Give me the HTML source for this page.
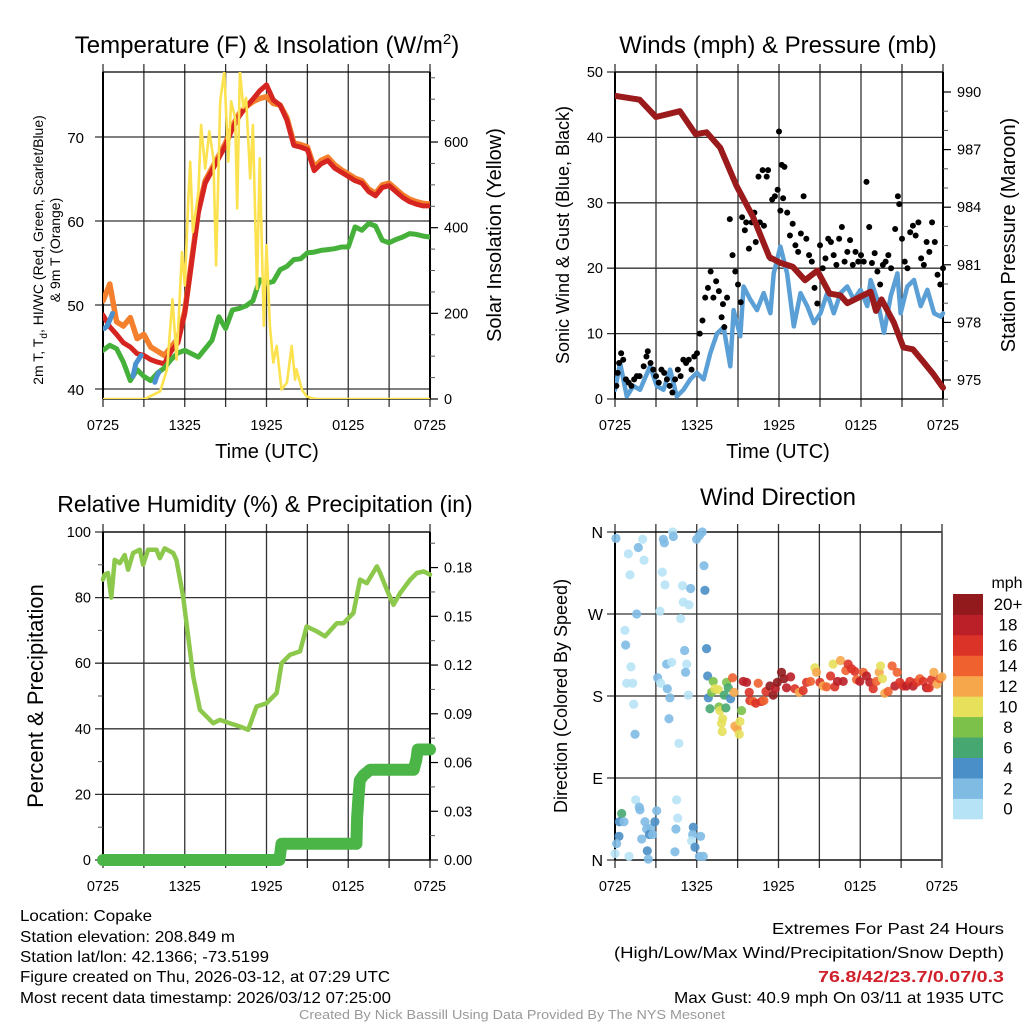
<!DOCTYPE html>
<html><head><meta charset="utf-8"><style>
html,body{margin:0;padding:0;background:#fff;}
svg{display:block;font-family:"Liberation Sans",sans-serif;}
</style></head><body>
<svg id="fig" width="1024" height="1024" viewBox="0 0 1024 1024" xmlns="http://www.w3.org/2000/svg"></svg>
<script>
// ---------- DATA ----------
const halfHours = [0,0.5,1,1.5,2,2.5,3,3.5,4,4.5,5,5.5,6,6.5,7,7.5,8,8.5,9,9.5,10,10.5,11,11.5,12,12.5,13,13.5,14,14.5,15,15.5,16,16.5,17,17.5,18,18.5,19,19.5,20,20.5,21,21.5,22,22.5,23,23.5,24];
const tempRed = [48.8,47.4,46.5,45.5,45,44.2,44,43.5,43.2,43,44.5,45.5,49,55,61,64.5,66,67.5,69,71,72.5,73.6,74.5,75.5,76.2,74.4,73.8,72,69,68.8,68.5,66,66.8,67.2,66.3,65.8,65.3,64.8,64.5,63.5,63,64,64.2,63.5,62.8,62.3,62,61.8,61.8];
const temp9m = [50.5,52.5,48,47.5,48.5,46,46.5,45,44.5,44,45,46,49.3,55.3,61.3,64.8,66.3,67.8,69.3,71.3,72.8,73.6,74.2,74.6,74.8,74,73.8,72.3,69.3,69.1,68.8,66.4,67.2,67.6,66.7,66.1,65.6,65.1,64.8,63.8,63.3,64.3,64.5,63.8,63.1,62.6,62.3,62.1,62];
const dewGreen = [44.6,45.2,44.8,43.2,41,42.3,41.5,41,41.9,42.5,43.5,44.3,44.6,44.2,43.8,44.8,45.8,48.6,47.2,49.4,49.6,49.9,50.5,53,52.6,52.8,54.2,54.6,55.4,55.5,56.2,56.3,56.5,56.6,56.7,56.9,56.9,59.3,58.9,59.7,59.4,57.7,57.4,57.8,58.1,58.5,58.4,58.2,58.1];
const wcHours = [0.1,0.3,0.5,0.7,null,2.2,2.4,2.6,2.8,null,3.8,3.95,4.1];
const wcVals  = [47.2,47.5,48.2,49,null,41.5,43,43.5,44,null,40.8,41.5,42];
const solarHours = [0,3,3.2,4.2,4.7,5.1,5.4,5.8,6.0,6.25,6.4,6.6,7.0,7.2,7.5,7.8,8.1,8.3,8.6,8.9,9.2,9.4,9.7,9.85,10.05,10.3,10.5,10.8,11.0,11.3,11.5,11.8,12.0,12.25,12.5,12.75,13.1,13.5,13.85,14.1,14.2,14.6,14.95,15.3,15.7,24];
const solarVals  = [0,0,2,18,69,233,92,343,265,460,554,390,484,640,538,625,562,312,695,766,554,695,656,445,766,680,703,515,640,257,562,171,359,171,85,124,22,38,124,45,69,22,6,2,0,0];

const windHours = [0,.37,.86,1.34,1.83,2.57,3.06,3.55,4.03,4.52,5.01,5.5,5.99,6.48,6.97,7.46,7.95,8.44,8.68,9.17,9.41,9.9,10.39,10.88,11.37,11.61,12.1,12.59,13.08,13.57,14.06,14.55,15.04,15.53,16.01,16.5,16.99,17.48,17.97,18.46,18.7,19.19,19.68,20.17,20.66,20.9,21.39,21.88,22.37,22.86,23.35,23.84,24];
const windVals  = [1.4,5.5,0.4,2,1.4,5,2,1.4,4.5,0.4,1.4,3,4,3,7,10,11,5,13.6,9.6,17.2,15.2,13.6,16.2,13.1,19.2,23.3,19.2,11.1,16.2,14.2,11.6,13.1,16.2,13.1,16.2,17.2,15.2,16.7,14.2,18.2,15.2,10.1,15.7,19.2,13.1,17.2,18.2,14.2,16.7,13.1,12.6,13.1];
const gustHours = [0.1,0.2,0.3,0.45,0.6,0.8,1.0,1.2,1.4,1.6,1.8,2.1,2.3,2.4,2.6,2.8,3.0,3.2,3.4,3.6,3.8,4.0,4.2,4.4,4.6,4.8,5.0,5.2,5.4,5.6,5.8,6.0,6.2,6.4,6.6,6.8,7.0,7.2,7.4,7.6,7.8,7.9,8.0,8.2,8.4,8.6,8.8,9.0,9.2,9.3,9.5,9.6,9.8,10.0,10.2,10.3,10.5,10.6,10.8,10.9,11.1,11.2,11.4,11.5,11.7,11.9,12.0,12.1,12.2,12.3,12.4,12.6,12.8,13.0,13.2,13.4,13.6,13.8,14.0,14.2,14.4,14.6,14.8,15.0,15.2,15.4,15.6,15.8,16.0,16.2,16.4,16.6,16.8,17.0,17.2,17.4,17.6,17.8,18.0,18.2,18.4,18.6,18.8,19.0,19.2,19.4,19.6,19.8,20.0,20.2,20.5,20.7,20.8,21.0,21.2,21.4,21.6,21.8,22.0,22.2,22.4,22.6,22.8,23.0,23.2,23.4,23.6,23.8,24.0];
const gustVals  = [2,4,5.5,7,6,3,2.5,2,3,3.5,3.5,5,6.5,7.3,5.5,4.5,3.5,2.5,4.5,4,3,2,1,3,4.5,3.5,6,5.5,6,4.5,6.5,7,10,12,15.5,17,19.5,15.5,18,16.5,12.5,14.5,11,15.5,27.5,22,19.5,17.5,14.8,27.8,25.8,27,23,27,28.5,24,34,27,35,26.5,34,35,21.5,30.5,31,32,40.9,28.8,35.8,30.7,35.5,28.5,25,26.8,23.5,22.5,25.3,31,24.5,22,21,17,14.6,23.5,20,21.5,24.5,24,22,20.5,24.5,26.3,21,22.5,24.3,20.5,22.5,21,22,21,33.2,26.3,20.8,22.3,19.5,17.5,20.5,21,22,20,26,31,29.8,24.5,21,20,25.5,26.5,25,27,21.5,20.5,24,22.5,27,24,19,17.5,20];
const presHours = [0,1.8,3,4.75,5.9,6.7,7.7,8.9,10.1,11.3,12.1,13,13.9,14.8,15.7,16.5,17,18.7,19.1,19.5,20.4,21.1,21.8,22.5,23.3,24];
const presVals  = [989.8,989.6,988.7,989.0,987.8,987.9,987.1,985.1,983.5,981.4,981.1,980.9,980.2,980.7,979.5,979.4,979.0,979.6,978.6,979.2,978.0,976.7,976.6,976.0,975.3,974.6];

const rhHours = [0,.12,.37,.61,.86,1.23,1.59,1.84,2.21,2.7,2.94,3.31,3.92,4.17,4.53,5.15,5.39,5.88,6.62,7.11,8.09,8.58,9.31,10.05,10.66,11.27,12.01,12.75,13.11,13.73,14.46,14.95,15.69,16.3,17.16,17.65,18.38,18.87,19.36,20.1,20.34,20.83,21.32,21.81,22.55,23.04,23.53,24];
const rhVals  = [85.5,87,87.5,80,91.5,90.5,93,88.5,93.6,94.6,90,94.6,94.6,92,95,93.6,91.5,80.4,56,45.8,41.7,42.7,41.7,40.7,39.7,46.8,47.8,50.9,60,62.6,63.6,71.2,69.7,68.2,72.2,72.2,75.3,85.5,84.4,89.5,87.5,82.4,77.8,81.4,85.5,87.5,88,87];
const precipHours = [0,12.95,13.1,18.6,18.65,18.75,18.85,19.1,19.6,22.8,23.0,23.1,24];
const precipVals  = [0,0,0.01,0.01,0.026,0.039,0.049,0.052,0.0555,0.0555,0.062,0.068,0.068];

const dirHours = [0.07,0.98,1.1,1.71,2.03,2.13,1.59,0.73,0.78,1.17,0.86,1.3,1.37,1.47,3.3,3.13,3.35,3.47,3.55,3.62,3.67,3.79,4.16,3.84,4.03,3.96,4.23,4.28,4.96,5.01,5.43,5.55,4.82,5.11,5.26,5.18,5.38,4.69,5.99,6.19,6.41,6.53,6.6,6.72,6.8,
1.52,1.83,1.78,0.49,0.32,0.66,0.29,0.12,0,1.03,2.2,2.32,2.64,2.52,2.76,2.93,3.06,1.96,2.37,2.44,4.52,4.6,4.47,4.4,5.75,5.7,5.62,6.28,5.87,6.19,6.48,
6.85,6.97,7.09,7.21,7.33,7.58,7.63,7.7,7.9,7.82,7.87,8.02,8.14,8.19,8.31,8.48,8.63,8.73,8.8,8.97,9.12,9.17,9.29,
9.41,9.66,9.85,9.9,10.15,10.34,10.51,10.76,10.93,11.08,11.37,11.61,11.76,11.91,12.22,12.4,12.59,12.89,13.2,13.52,13.81,14.06,14.35,14.67,14.79,15.04,15.28,15.53,15.82,16.01,16.13,16.33,16.55,16.75,16.94,17.11,17.36,17.6,17.73,17.97,18.22,18.46,18.7,18.95,19.19,19.39,19.49,19.63,19.8,20.05,20.34,20.54,20.71,20.9,21.15,21.39,21.64,21.88,22.13,22.37,22.62,22.86,23.06,23.23,23.4,23.64,23.84,24];
const dirDegrees = [353,336,313,343,352,329,270,252,236,212,194,194,171,138,273,200,194,316,352,348,302,215,217,188,178,155,360,355,301,283,280,298,265,230,215,206,181,128,352,356,360,323,296,232,202,
66,55,58,51,42,42,26,18,7,4,42,34,35,28,28,42,54,23,10,1,66,46,34,9,36,28,21,26,14,4,4,
178,166,184,196,188,187,168,164,155,150,141,181,167,195,189,177,200,184,147,144,138,152,164,
196,195,184,175,174,172,194,174,175,185,191,181,188,195,206,199,189,201,188,184,186,195,196,211,206,195,191,190,202,215,190,196,219,196,208,215,210,207,198,196,206,202,195,188,196,206,213,199,183,185,213,191,206,195,191,191,196,191,195,199,196,189,189,198,206,193,199,201];
const dirSpeeds = [3,1,1,3,1,1,2,1,3,1,1,1,1,2,1,2,1,1,2,2,1,2,1,3,2,3,1,2,1,1,1,2,1,2,1,2,1,1,2,2,3,3,4,4,4,
1,2,2,6,4,3,4,3,1,1,3,2,3,4,3,4,3,3,4,2,1,1,3,3,4,3,1,3,4,2,2,
4,6,8,8,10,10,8,10,10,10,10,6,6,8,6,4,14,12,12,12,10,10,8,
18,18,16,16,14,16,14,16,14,16,20,20,18,20,20,20,18,18,16,12,16,16,14,10,12,16,12,14,16,10,16,18,12,18,14,16,16,16,14,18,14,18,18,16,14,12,10,10,12,14,14,18,14,16,16,18,16,18,16,14,16,18,16,16,12,12,14,12];
const speedColors = ["#b7e3f6","#80bbe4","#4a8fc7","#47a771","#7bc14a","#e6e05a","#f6a74b","#ef6230","#db3327","#bb1f27","#921a1d"];
const speedLabels = ["0","2","4","6","8","10","12","14","16","18","20+"];

// ---------- HELPERS ----------
const NS="http://www.w3.org/2000/svg";
const svg=document.getElementById('fig');
function mk(tag,attrs,parent){const e=document.createElementNS(NS,tag);for(const k in attrs)e.setAttribute(k,attrs[k]);(parent||svg).appendChild(e);return e;}
function txt(s,x,y,size,anchor,extra,parent){const e=mk('text',Object.assign({x:x,y:y,'font-size':size,'text-anchor':anchor||'middle',fill:'#000'},extra||{}),parent);e.textContent=s;return e;}
function poly(hs,vs,X,Y,color,w,parent){
  let segs=[],cur=[];
  for(let i=0;i<hs.length;i++){ if(hs[i]===null||vs[i]===null){if(cur.length)segs.push(cur);cur=[];continue;} cur.push(X(hs[i]).toFixed(1)+','+Y(vs[i]).toFixed(1)); }
  if(cur.length)segs.push(cur);
  return segs.map(s=>mk('polyline',{points:s.join(' '),fill:'none',stroke:color,'stroke-width':w,'stroke-linejoin':'round','stroke-linecap':'round'},parent));
}
const tickLbls=["0725","1325","1925","0125","0725"];
function frame(g,L,T,R,B,hLines){
  const X=h=>L+h/24*(R-L);
  for(let h=0;h<=24;h+=3){ const l=mk('line',{x1:X(h),y1:T-8,x2:X(h),y2:B+8,stroke:'#333','stroke-width':1.3},g);   }
  hLines.forEach(y=>{const l=mk('line',{x1:L-8,y1:y,x2:R,y2:y,stroke:'#333','stroke-width':1.3},g);  });
  mk('line',{x1:L,y1:T,x2:L,y2:B,stroke:'#000','stroke-width':2},g);
  mk('line',{x1:L,y1:T,x2:R,y2:T,stroke:'#000','stroke-width':1.3},g);
  mk('line',{x1:L,y1:B,x2:R,y2:B,stroke:'#000','stroke-width':1.3},g);
  tickLbls.forEach((s,i)=>{const t=txt(s,X(i*6),B+31,14.5,'middle',{},g);  });
  return X;
}
function rightAxis(g,R,yFn,majors,minors,fmt){
  majors.forEach(v=>{mk('line',{x1:R,y1:yFn(v),x2:R+8,y2:yFn(v),stroke:'#000','stroke-width':1.2},g); const t=txt(fmt(v),R+14,yFn(v)+5,14.5,'start',{},g);  });
  minors.forEach(v=>mk('line',{x1:R,y1:yFn(v),x2:R+5,y2:yFn(v),stroke:'#555','stroke-width':1},g));
}

// ---------- PANEL 1 ----------
(function(){
  const g=mk('g',{});  
  const L=103,T=72,R=430,B=399;
  const Y=v=>389-(v-40)*8.4, YS=v=>399-v*0.4283;
  const X=frame(g,L,T,R,B,[40,50,60,70].map(Y));
  [40,50,60,70].forEach(v=>{const t=txt(String(v),L-19,Y(v)+6,15,'end',{},g);  });
  mk('line',{x1:R,y1:T,x2:R,y2:B,stroke:'#000','stroke-width':2},g);
  const mins=[];for(let v=50;v<=750;v+=50) if(v%200) mins.push(v);
  rightAxis(g,R,YS,[0,200,400,600],mins,v=>String(v));
  const cp=mk('clipPath',{id:'c1'}); mk('rect',{x:L,y:T,width:R-L,height:B-T},cp);
  const d=mk('g',{'clip-path':'url(#c1)'},g);
  poly(halfHours,temp9m,X,Y,'#f47f2c',5.5,d).forEach(e=>{});
  poly(halfHours,tempRed,X,Y,'#d62520',5,d).forEach(e=>{});
  poly(halfHours,dewGreen,X,Y,'#45b03a',5,d).forEach(e=>{});
  poly(wcHours,wcVals,X,Y,'#4a92cf',5,d).forEach(e=>{});
  poly(solarHours,solarVals,X,YS,'#fce24f',2.6,d).forEach(e=>{});
  const t=mk('text',{x:267,y:53,'font-size':24,'text-anchor':'middle'},g); t.innerHTML='Temperature (F) &amp; Insolation (W/m<tspan dy="-9" font-size="15">2</tspan><tspan dy="9">)</tspan>';
   
  const xt=txt('Time (UTC)',267,458,20,'middle',{},g);  
  const yt=mk('text',{x:0,y:0,'font-size':14,'text-anchor':'middle',transform:'translate(43,250) rotate(-90)'},g); yt.innerHTML='2m T, T<tspan dy="4" font-size="10">d</tspan><tspan dy="-4">, HI/WC (Red, Green, Scarlet/Blue)</tspan>';
   
  const yt2=txt('& 9m T (Orange)',0,0,14,'middle',{transform:'translate(60,250) rotate(-90)'},g);  
  const rt=txt('Solar Insolation (Yellow)',0,0,20,'middle',{transform:'translate(501,235) rotate(-90)'},g);  
})();

// ---------- PANEL 2 ----------
(function(){
  const g=mk('g',{});  
  const L=615,T=72,R=943,B=399;
  const Y=v=>399-v*6.54, YP=v=>92+(990-v)*19.2;
  const X=frame(g,L,T,R,B,[0,10,20,30,40,50].map(Y));
  [0,10,20,30,40,50].forEach(v=>{const t=txt(String(v),L-12,Y(v)+5,14.5,'end',{},g);  });
  mk('line',{x1:R,y1:T,x2:R,y2:B,stroke:'#000','stroke-width':2},g);
  const mins=[];for(let v=974;v<=990;v++) if((v-975)%3) mins.push(v);
  rightAxis(g,R,YP,[975,978,981,984,987,990],mins,v=>String(v));
  const cp=mk('clipPath',{id:'c2'}); mk('rect',{x:L,y:T-3,width:R-L+4,height:B-T+6},cp);
  const d=mk('g',{'clip-path':'url(#c2)'},g);
  poly(windHours,windVals,X,Y,'#5a9fd6',4.5,d).forEach(e=>{});
  for(let i=0;i<gustHours.length;i++){const c=mk('circle',{cx:X(gustHours[i]),cy:Y(gustVals[i]),r:3,fill:'#000'},d);  }
  poly(presHours,presVals,X,YP,'#9b1a1c',6,d).forEach(e=>{});
  const t=txt('Winds (mph) & Pressure (mb)',778,53,24,'middle',{},g);  
  const xt=txt('Time (UTC)',778,458,20,'middle',{},g);  
  const yt=txt('Sonic Wind & Gust (Blue, Black)',0,0,18,'middle',{transform:'translate(569,235) rotate(-90)'},g);  
  const rt=txt('Station Pressure (Maroon)',0,0,20,'middle',{transform:'translate(1015,235) rotate(-90)'},g);  
})();

// ---------- PANEL 3 ----------
(function(){
  const g=mk('g',{});  
  const L=103,T=532,R=430,B=860;
  const Y=v=>860-v*3.28, YI=v=>860-v/0.2019*328;
  const X=frame(g,L,T,R,B,[0,20,40,60,80,100].map(Y));
  [0,20,40,60,80,100].forEach(v=>{const t=txt(String(v),L-12,Y(v)+5,14.5,'end',{},g);  });
  [10,30,50,70,90].forEach(v=>mk('line',{x1:L-5,y1:Y(v),x2:L,y2:Y(v),stroke:'#555'},g));
  mk('line',{x1:R,y1:T,x2:R,y2:B,stroke:'#000','stroke-width':2},g);
  rightAxis(g,R,YI,[0,0.03,0.06,0.09,0.12,0.15,0.18],[0.015,0.045,0.075,0.105,0.135,0.165,0.195],v=>v.toFixed(2));
  poly(rhHours,rhVals,X,Y,'#8cc84b',4.5,g).forEach(e=>{});
  poly(precipHours,precipVals,X,YI,'#4bb548',12,g).forEach(e=>{});
  const t=txt('Relative Humidity (%) & Precipitation (in)',265,512,23,'middle',{},g);  
  const yt=txt('Percent & Precipitation',0,0,22,'middle',{transform:'translate(43,696) rotate(-90)'},g);  
})();

// ---------- PANEL 4 ----------
(function(){
  const g=mk('g',{});  
  const L=615,T=532,R=942,B=860;
  const Y=v=>860-v/360*328;
  const X=frame(g,L,T,R,B,[0,90,180,270,360].map(Y));
  ['N','E','S','W','N'].forEach((s,i)=>{const t=txt(s,L-12,Y(i*90)+6,16,'end',{},g);  });
  mk('line',{x1:R,y1:T,x2:R,y2:B,stroke:'#666','stroke-width':2},g);
  for(let i=0;i<dirHours.length;i++){
    const k=Math.min(10,Math.floor(dirSpeeds[i]/2));
    const c=mk('circle',{cx:X(dirHours[i]),cy:Y(dirDegrees[i]),r:4.6,fill:speedColors[k],'fill-opacity':0.9},g);
     
  }
  const cb=mk('g',{},g);  
  const bh=20.45;
  for(let i=0;i<11;i++){
    const y=594+(10-i)*bh;
    const r=mk('rect',{x:953,y:y,width:30,height:bh+0.4,fill:speedColors[i]},cb);  
    const t=txt(speedLabels[i],1008,y+bh/2+6,17,'middle',{},cb);  
  }
  const mt=txt('mph',1007,588,16,'middle',{},cb);  
  const t=txt('Wind Direction',778,505,24,'middle',{},g);  
  const yt=txt('Direction (Colored By Speed)',0,0,18,'middle',{transform:'translate(567,696) rotate(-90)'},g);  
})();

// ---------- FOOTER ----------
(function(){
  const g=mk('g',{'font-family':'"Liberation Sans Narrow","Liberation Sans",sans-serif'});  
  const left=[['Location: Copake',921,132],['Station elevation: 208.849 m',942,215],['Station lat/lon: 42.1366; -73.5199',962,249],['Figure created on Thu, 2026-03-12, at 07:29 UTC',982,370],['Most recent data timestamp: 2026/03/12 07:25:00',1003,371]];
  left.forEach(a=>{const t=txt(a[0],20,a[1],16,'start',{textLength:a[2],lengthAdjust:'spacingAndGlyphs'},g);  });
  const right=[['Extremes For Past 24 Hours',934,232,'#000'],['(High/Low/Max Wind/Precipitation/Snow Depth)',958,390,'#000'],['76.8/42/23.7/0.07/0.3',982,186,'#d0202a'],['Max Gust: 40.9 mph On 03/11 at 1935 UTC',1003,330,'#000']];
  right.forEach((a,i)=>{const t=txt(a[0],1004,a[1],16,'end',{textLength:a[2],lengthAdjust:'spacingAndGlyphs',fill:a[3],'font-weight':i===2?'bold':'normal'},g);  });
  const c=txt('Created By Nick Bassill Using Data Provided By The NYS Mesonet',512,1019,12.5,'middle',{fill:'#999',textLength:426,lengthAdjust:'spacingAndGlyphs'},g);  
})();
</script>
</body></html>
